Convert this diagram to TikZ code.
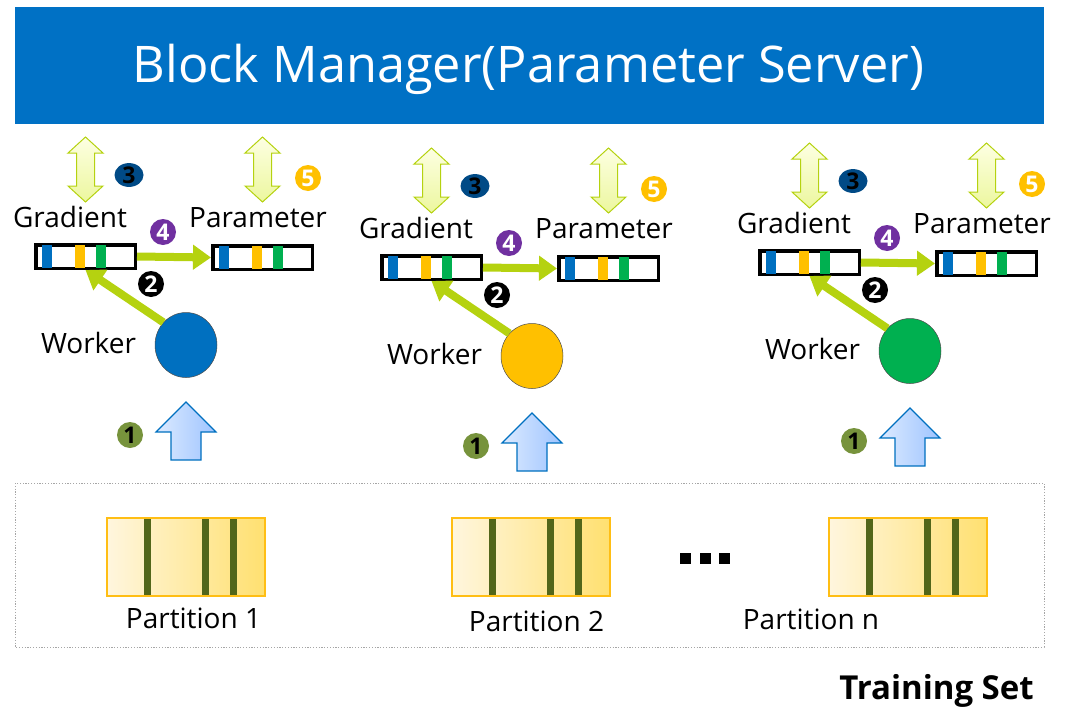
\documentclass[tikz,border=0pt]{standalone}
\usepackage{fontspec}
\setmainfont{Open Sans}
\usetikzlibrary{arrows.meta,shapes.geometric}
\definecolor{bannerBlue}{RGB}{0,113,197}
\definecolor{flowGreen}{RGB}{181,210,16}
\definecolor{dblTop}{RGB}{253,255,226}
\definecolor{dblBot}{RGB}{236,247,158}
\definecolor{upLeft}{RGB}{220,234,255}
\definecolor{upRight}{RGB}{158,196,255}
\definecolor{upLine}{RGB}{0,112,192}
\definecolor{cBlue}{RGB}{0,112,192}
\definecolor{cOrange}{RGB}{255,192,0}
\definecolor{cGreen}{RGB}{0,176,80}
\definecolor{cPurple}{RGB}{112,48,160}
\definecolor{cNavy}{RGB}{0,74,134}
\definecolor{cOlive}{RGB}{119,147,60}
\definecolor{partLeft}{RGB}{255,246,222}
\definecolor{partRight}{RGB}{255,224,112}
\definecolor{partLine}{RGB}{255,190,20}
\definecolor{stripe}{RGB}{82,102,26}

\begin{document}
\begin{tikzpicture}[x=1pt, y=-1pt, >=Stealth,
  lbl/.style={font=\fontsize{28}{32}\selectfont, anchor=base, inner sep=0pt},
  vecbox/.style={draw=black, line width=3.5pt, fill=white, inner sep=0pt,
                 minimum width=99.5pt, minimum height=23.5pt},
  badge/.style={circle, minimum size=26pt, inner sep=0pt,
                font=\bfseries\fontsize{23}{23}\selectfont},
  flow/.style={draw=flowGreen, line width=8pt, -{Triangle[length=18pt,width=24pt]}},
  dbl/.style={draw=flowGreen, line width=1pt, top color=dblTop, bottom color=dblBot},
  upar/.style={draw=upLine, line width=1.2pt, left color=upLeft, right color=upRight}]
\useasboundingbox (0,0) rectangle (1069,707);
% ---------- banner ----------
\fill[bannerBlue] (15,7) rectangle (1044,124);
\node[anchor=base, inner sep=0pt, text=white, font=\fontsize{50.5}{56}\selectfont] (bm) at (528.5,82)
  {Block Manager(Parameter Server)};
% ---------- training set ----------
\draw[gray!70, line width=0.8pt, dash pattern=on 1.2pt off 1.6pt] (15,483) rectangle (1044,647);
\foreach \px/\pn/\lx/\ly in {107/1/193.5/628, 452/2/536.5/631, 829/n/811/629}{
  \draw[partLine, line width=1.5pt, left color=partLeft, right color=partRight] (\px,518) rectangle ++(158,78);
  \foreach \sx in {37,95,123}
    \fill[stripe] (\px+\sx,518.8) rectangle ++(7,76.4);
  \node[lbl] (part\pn) at (\lx,\ly) {Partition \pn};
}
\foreach \dx/\dn in {685.5/1,705.5/2,724.5/3}
  \fill (\dx-5.5,553) rectangle ++(11,11);
\node[anchor=base, inner sep=0pt, font=\bfseries\fontsize{33}{36}\selectfont] (ts) at (936.5,699) {Training Set};
% ---------- workers ----------
\foreach \i/\dx/\dy/\wc in {1/0/0/cBlue, 2/346/11/cOrange, 3/724/6/cGreen}{
\begin{scope}[shift={(\dx,\dy)}]
  % exchange with the block manager
  \foreach \ax in {85.5,262.5}
    \draw[dbl] (\ax,137) -- (\ax+17.5,153) -- (\ax+9,153) -- (\ax+9,186) -- (\ax+17.5,186)
      -- (\ax,202) -- (\ax-17.5,186) -- (\ax-9,186) -- (\ax-9,153) -- (\ax-17.5,153) -- cycle;
  \node[lbl] (gl\i) at (70,227) {Gradient};
  \node[lbl] (pl\i) at (258,227) {Parameter};
  \node[vecbox] (grad\i) at (85.5,256.5) {};
  \node[vecbox] (par\i) at (262.5,257.5) {};
  \foreach \n in {grad\i,par\i}{
    \foreach \sx/\sc in {7.5/cBlue,40.5/cOrange,61.5/cGreen}
      \fill[\sc] ([xshift=\sx pt, yshift=1.75pt]\n.south west) rectangle ([xshift=\sx pt+10pt, yshift=-1.75pt]\n.north west);
  }
  \node[ellipse, draw=black!70, line width=0.5pt, fill=\wc, minimum width=62pt, minimum height=65pt, inner sep=0pt] (wk\i) at (186,345) {};
  \node[lbl] (wl\i) at (88.5,353) {Worker};
  % input from the partition
  \draw[upar] (186,402) -- (216,432) -- (201,432) -- (201,460) -- (171,460) -- (171,432) -- (156,432) -- cycle;
  % steps
  \draw[flow] (wk\i.135) -- (grad\i.south);
  \draw[flow] (grad\i.east) -- (par\i.west);
  \node[badge, fill=cOlive] (s1\i) at (130,435) {1};
  \node[badge, fill=black, text=white] (s2\i) at (151,284) {2};
  \node[badge, ellipse, minimum width=29pt, minimum height=21pt, fill=cNavy] (s3\i) at (129,175) {3};
  \node[badge, fill=cPurple, text=white] (s4\i) at (163,232) {4};
  \node[badge, fill=cOrange, text=white] (s5\i) at (308,178) {5};
\end{scope}
}
\end{tikzpicture}
\end{document}
